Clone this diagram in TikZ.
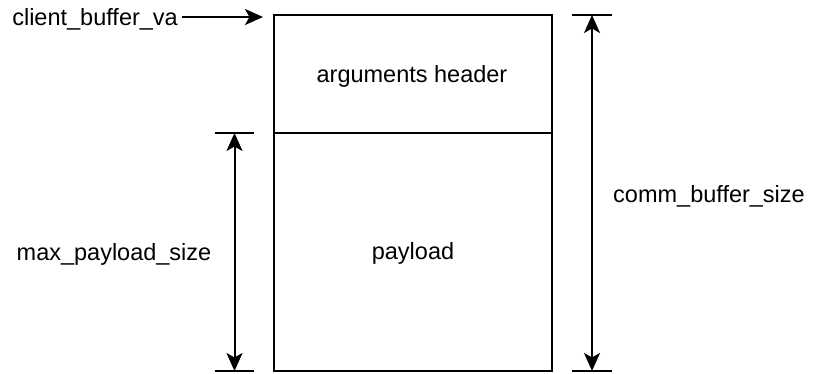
\documentclass[tikz,border=0pt]{standalone}
\usepackage{fontspec}
\setmainfont{Liberation Sans}
\usetikzlibrary{arrows.meta}
\begin{document}
\begin{tikzpicture}[x=1pt,y=-1pt,
  line/.style={line width=2pt,black},
  tip/.style={-{Stealth[length=18pt,width=16pt,inset=4.5pt]}},
  dtip/.style={{Stealth[length=18pt,width=16pt,inset=4.5pt]}-{Stealth[length=18pt,width=16pt,inset=4.5pt]}},
  lbl/.style={font=\fontsize{23.5}{28}\selectfont,inner sep=0pt}]
\useasboundingbox (0,0) rectangle (824,374);
% box
\coordinate (tl) at (274,15);
\coordinate (br) at (552,371);
\coordinate (dl) at (274,133);
\coordinate (dr) at (552,133);
\draw[line] (tl) rectangle (br);
\draw[line] (dl) -- (dr);
\node[lbl] (hdr) at (412,76) {arguments header};
\node[lbl] (pay) at (413,253) {payload};
% client buffer va
\node[lbl,anchor=east] (cbv) at (178,19) {client\_buffer\_va};
\coordinate (cbvend) at (263,17);
\draw[line,tip] (cbv.east) ++(4,0) coordinate (cbvs) (cbvs |- cbvend) -- (cbvend);
% left dimension
\coordinate (lt1) at (215,133);
\coordinate (lt2) at (254,133);
\coordinate (lb1) at (215,371);
\coordinate (lb2) at (254,371);
\draw[line] (lt1) -- (lt2);
\draw[line] (lb1) -- (lb2);
\coordinate (la) at (234.5,133);
\coordinate (lb) at (234.5,371);
\draw[line,dtip] (la) -- (lb);
\node[lbl] (mps) at (114,254) {max\_payload\_size};
% right dimension
\coordinate (rt1) at (572,15);
\coordinate (rt2) at (612,15);
\coordinate (rb1) at (572,371);
\coordinate (rb2) at (612,371);
\draw[line] (rt1) -- (rt2);
\draw[line] (rb1) -- (rb2);
\coordinate (ra) at (592,15);
\coordinate (rb) at (592,371);
\draw[line,dtip] (ra) -- (rb);
\node[lbl] (cbs) at (709,196) {comm\_buffer\_size};
\end{tikzpicture}
\end{document}
